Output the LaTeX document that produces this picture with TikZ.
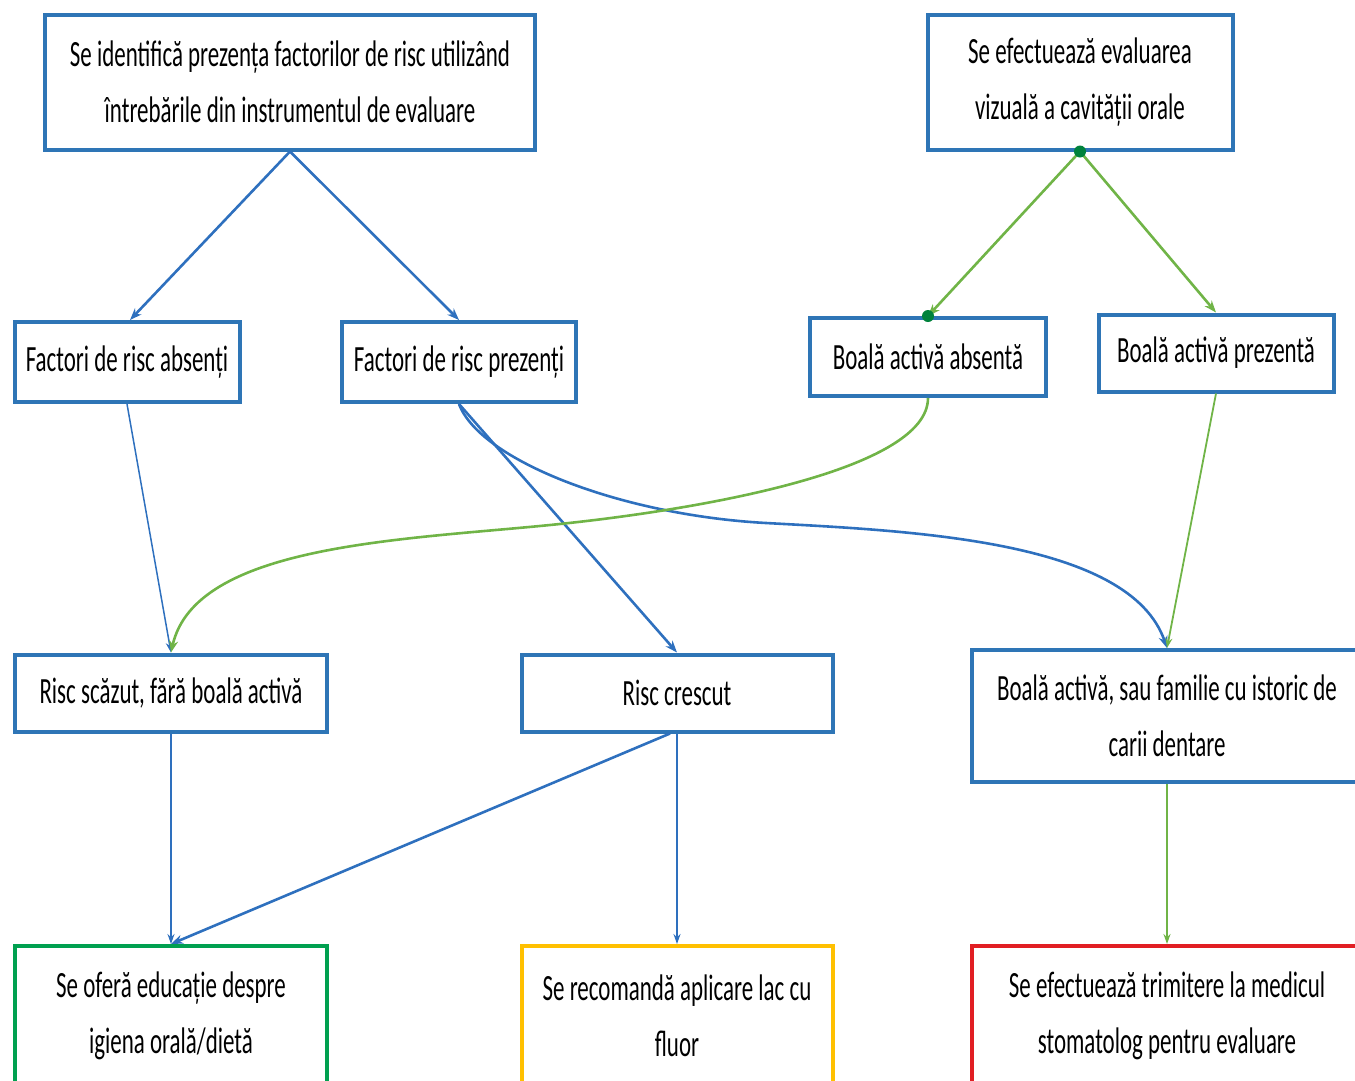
\documentclass[tikz,border=0pt]{standalone}
\usepackage{fontspec}
\setmainfont[FakeStretch=0.62]{Carlito}
\usetikzlibrary{arrows.meta}
\definecolor{boxblue}{RGB}{46,117,182}
\definecolor{lineblue}{RGB}{46,112,190}
\definecolor{linegreen}{RGB}{112,180,71}
\definecolor{dotgreen}{RGB}{0,130,60}
\definecolor{boxgreen}{RGB}{0,160,80}
\definecolor{boxyellow}{RGB}{255,192,0}
\definecolor{boxred}{RGB}{225,30,35}
\tikzset{
  flowbox/.style={draw=boxblue, line width=4pt, fill=white, align=center,
    inner sep=0pt, font=\fontsize{37}{56}\selectfont},
  bluearrow/.style={draw=lineblue, line width=2.6pt, -{Stealth[length=12pt,width=9pt]}},
  thinblue/.style={draw=lineblue, line width=1.5pt, -{Stealth[length=10pt,width=7pt]}},
  greenarrow/.style={draw=linegreen, line width=2.6pt, -{Stealth[length=12pt,width=9pt]}},
  thingreen/.style={draw=linegreen, line width=1.8pt, -{Stealth[length=10pt,width=7pt]}},
  gdot/.style={circle, fill=dotgreen, inner sep=0pt, minimum size=12pt}
}
\begin{document}
\begin{tikzpicture}[x=1pt, y=-1pt]
\useasboundingbox (0,0) rectangle (1355,1080);
\clip (0,0) rectangle (1355,1080);

% top row
\node[flowbox, minimum width=490pt, minimum height=135pt] (ident) at (290,82)
  {Se identifică prezența factorilor de risc utilizând\\întrebările din instrumentul de evaluare};
\node[flowbox, minimum width=305pt, minimum height=135pt] (visual) at (1080,82)
  {Se efectuează evaluarea\\vizuală a cavității orale};

% second row
\node[flowbox, minimum width=225pt, minimum height=80pt] (absent) at (127,362)
  {Factori de risc absenți};
\node[flowbox, minimum width=234pt, minimum height=80pt] (present) at (459,362)
  {Factori de risc prezenți};
\node[flowbox, minimum width=236pt, minimum height=78pt] (babs) at (928,357)
  {Boală activă absentă};
\node[flowbox, minimum width=235pt, minimum height=77pt] (bpres) at (1216,353)
  {Boală activă prezentă};

% third row
\node[flowbox, minimum width=312pt, minimum height=77pt] (low) at (171,693)
  {Risc scăzut, fără boală activă};
\node[flowbox, minimum width=311pt, minimum height=77pt] (high) at (677,693)
  {Risc crescut};
\node[flowbox, minimum width=390pt, minimum height=132pt] (active) at (1167,716)
  {Boală activă, sau familie cu istoric de\\carii dentare};

% outcome row
\node[flowbox, draw=boxgreen, minimum width=312pt, minimum height=140pt] (edu) at (171,1016)
  {Se oferă educație despre\\igiena orală/dietă};
\node[flowbox, draw=boxyellow, minimum width=311pt, minimum height=140pt] (lac) at (677,1016)
  {Se recomandă aplicare lac cu\\fluor};
\node[flowbox, draw=boxred, minimum width=390pt, minimum height=140pt] (refer) at (1167,1016)
  {Se efectuează trimitere la medicul\\stomatolog pentru evaluare};

% connectors from the risk questionnaire
\draw[bluearrow] (ident.south) -- (absent.north -| 130,0);
\draw[bluearrow] (ident.south) -- (present.north);
\draw[thinblue] (absent.south) -- (low.north);
\draw[bluearrow] (present.south) -- (high.north);
\coordinate (bluemid) at (766,523);
\draw[bluearrow] (present.south) .. controls (480,460) and (620,515) .. (bluemid)
  .. controls (912,531) and (1130,540) .. (active.north);

% connectors from the visual examination
\coordinate (vstart) at (visual.south);
\coordinate (babstop) at (babs.north);
\draw[greenarrow] (vstart) -- (babstop);
\draw[greenarrow] (vstart) -- (bpres.north);
\node[gdot] at (vstart) {};
\node[gdot] at (babstop) {};
\coordinate (greenmid) at (550,525);
\draw[greenarrow] (babs.south) .. controls (928,470) and (700,510) .. (greenmid)
  .. controls (400,540) and (195,545) .. (low.north);
\draw[thingreen] (bpres.south) -- (active.north);

% connectors to the outcomes
\draw[thinblue] (low.south) -- (edu.north);
\draw[thinblue] (high.south) -- (lac.north);
\draw[bluearrow] (high.south -| 670,0) -- (edu.north);
\draw[thingreen] (active.south) -- (refer.north);
\end{tikzpicture}
\end{document}
